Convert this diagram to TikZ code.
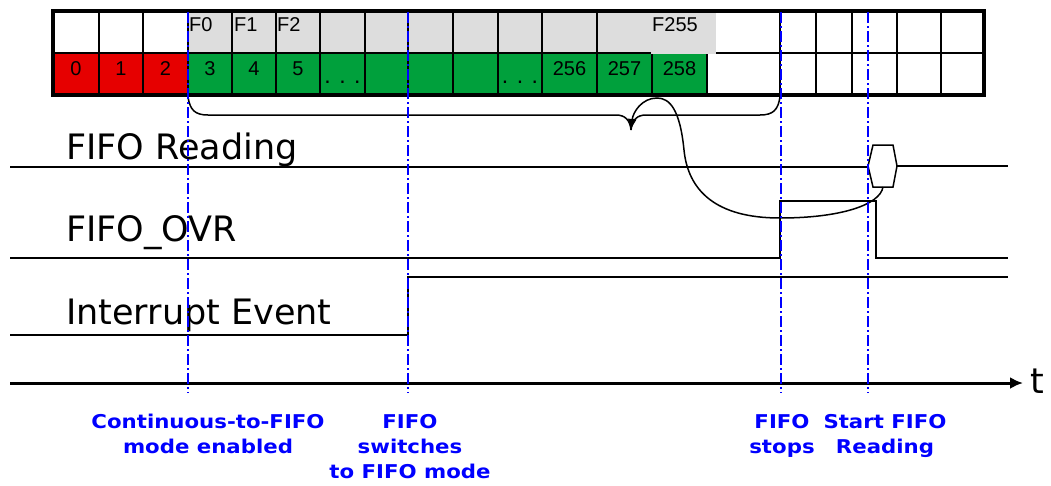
\documentclass[tikz,border=0pt]{standalone}
\usepackage{fontspec}
\setmainfont{DejaVu Sans}
\newfontfamily\cellfont{Liberation Sans}
\newfontfamily\eventfont{DejaVu Sans Bold}[FakeStretch=1.12]
\usetikzlibrary{arrows.meta}
\definecolor{cellred}{RGB}{230,0,0}
\definecolor{cellgreen}{RGB}{0,160,60}
\definecolor{cellgray}{RGB}{221,221,221}
\definecolor{markblue}{RGB}{0,0,255}

\begin{document}
\begin{tikzpicture}[every node/.style={inner sep=0pt,black},
	cell/.style={font=\cellfont\fontsize{20}{24}\selectfont, anchor=base},
	dotcell/.style={font=\cellfont\fontsize{23}{24}\selectfont, anchor=base},
	flabel/.style={font=\cellfont\fontsize{20}{24}\selectfont, anchor=base west},
	gridline/.style={line width=1.8pt},
	wave/.style={line width=2.6pt},
	marker/.style={draw=markblue, line width=1.5pt, dash pattern=on 11pt off 3pt on 2pt off 3pt},
	signame/.style={font=\fontsize{35}{40}\selectfont, anchor=base west},
	event/.style={font=\eventfont\fontsize{19}{25}\selectfont, text=markblue, align=center, anchor=north},
	>={Latex[length=11pt,width=9pt]}
]%1pt = 1px of the reference
\useasboundingbox (0pt,0pt) rectangle (1051pt,-485pt);
% buffer cells
\fill[cellred] (53pt,-53pt) rectangle (188pt,-95pt);
\fill[cellgreen] (188pt,-53pt) rectangle (707pt,-95pt);
\fill[cellgray] (188pt,-11pt) rectangle (716pt,-53pt);
\draw[gridline]
(99pt,-11pt) -- (99pt,-95pt)
(143pt,-11pt) -- (143pt,-95pt)
(188pt,-11pt) -- (188pt,-95pt)
(232pt,-11pt) -- (232pt,-95pt)
(276pt,-11pt) -- (276pt,-95pt)
(320pt,-11pt) -- (320pt,-95pt)
(365pt,-11pt) -- (365pt,-95pt)
(408pt,-11pt) -- (408pt,-95pt)
(453pt,-11pt) -- (453pt,-95pt)
(498pt,-11pt) -- (498pt,-95pt)
(542pt,-11pt) -- (542pt,-95pt)
(597pt,-11pt) -- (597pt,-95pt)
(652pt,-53pt) -- (652pt,-95pt)
(707pt,-53pt) -- (707pt,-95pt)
(780pt,-11pt) -- (780pt,-95pt)
(816pt,-11pt) -- (816pt,-95pt)
(852pt,-11pt) -- (852pt,-95pt)
(897pt,-11pt) -- (897pt,-95pt)
(941pt,-11pt) -- (941pt,-95pt)
(53pt,-53pt) -- (984pt,-53pt);
\fill[cellgray] (651pt,-11pt) rectangle (716pt,-54pt);
\draw[line width=3.5pt] (53pt,-11pt) rectangle (984pt,-95pt);
\node (f0) [flabel] at (189pt,-31pt) {F0};
\node (f1) [flabel] at (234pt,-31pt) {F1};
\node (f2) [flabel] at (277pt,-31pt) {F2};
\node (f255) [flabel] at (652pt,-31pt) {F255};
\node (c0) [cell] at (76pt,-75pt) {0};
\node (c1) [cell] at (121pt,-75pt) {1};
\node (c2) [cell] at (165.5pt,-75pt) {2};
\node (c3) [cell] at (210pt,-75pt) {3};
\node (c4) [cell] at (254pt,-75pt) {4};
\node (c5) [cell] at (298pt,-75pt) {5};
\node (dots1) [dotcell] at (342.5pt,-83pt) {. . .};
\node (dots2) [dotcell] at (520pt,-83pt) {. . .};
\node (c256) [cell] at (569.5pt,-75pt) {256};
\node (c257) [cell] at (624.5pt,-75pt) {257};
\node (c258) [cell] at (679.5pt,-75pt) {258};
% brace under the filled part
\coordinate (brtip) at (631pt,-130pt);
\draw[line width=1.5pt] (188pt,-97pt) .. controls (190pt,-110pt) and (195pt,-115pt) .. (208pt,-115pt) -- (616pt,-115pt) .. controls (625pt,-115pt) and (630pt,-120pt) .. (brtip);
\draw[line width=1.5pt] (780pt,-97pt) .. controls (778pt,-110pt) and (773pt,-115pt) .. (760pt,-115pt) -- (646pt,-115pt) .. controls (637pt,-115pt) and (632pt,-120pt) .. (brtip);
% waveforms
\node (rd) [signame] at (66pt,-159pt) {FIFO Reading};
\node (ovr) [signame] at (66pt,-241pt) {FIFO\_OVR};
\node (int) [signame] at (66pt,-324pt) {Interrupt Event};
\coordinate (hexbot) at (883pt,-187pt);
\draw[wave] (10pt,-167pt) -- (868pt,-167pt);
\draw[line width=1.5pt, fill=white] (868pt,-166pt) -- (873pt,-145pt) -- (893pt,-145pt) -- (897pt,-166pt) -- (893pt,-187pt) -- (873pt,-187pt) -- cycle;
\draw[wave] (897pt,-166pt) -- (1008pt,-166pt);
\draw[wave] (10pt,-258pt) -- (780pt,-258pt) -- (780pt,-201pt) -- (876pt,-201pt) -- (876pt,-258pt) -- (1008pt,-258pt);
\draw[wave] (10pt,-335pt) -- (408pt,-335pt) -- (408pt,-277pt) -- (1008pt,-277pt);
\draw[line width=1.5pt, ->] (hexbot) .. controls (880pt,-205pt) and (840pt,-218pt) .. (780pt,-218pt) .. controls (715pt,-218pt) and (688pt,-190pt) .. (684pt,-150pt) .. controls (680pt,-110pt) and (670pt,-98pt) .. (657pt,-98pt) .. controls (642pt,-98pt) and (633pt,-112pt) .. (brtip);
% time axis
\coordinate (t0) at (10pt,-383pt);
\coordinate (t1) at (1023pt,-383pt);
\draw[line width=3pt, -{Latex[length=13pt,width=12pt]}] (t0) -- (t1);
\node (t) [font=\fontsize{35}{40}\selectfont, anchor=base west] at (1030pt,-393pt) {t};
% event markers
\draw[marker] (188pt,-12pt) -- (188pt,-393pt);
\draw[marker] (408pt,-12pt) -- (408pt,-393pt);
\draw[marker] (781pt,-12pt) -- (781pt,-393pt);
\draw[marker] (868pt,-12pt) -- (868pt,-393pt);
\node (ev1) [event] at (208pt,-414pt) {Continuous-to-FIFO\\mode enabled};
\node (ev2) [event] at (410pt,-414pt) {FIFO\\switches\\to FIFO mode};
\node (ev3) [event] at (782pt,-414pt) {FIFO\\stops};
\node (ev4) [event] at (885pt,-414pt) {Start FIFO\\Reading};
\end{tikzpicture}
\end{document}
